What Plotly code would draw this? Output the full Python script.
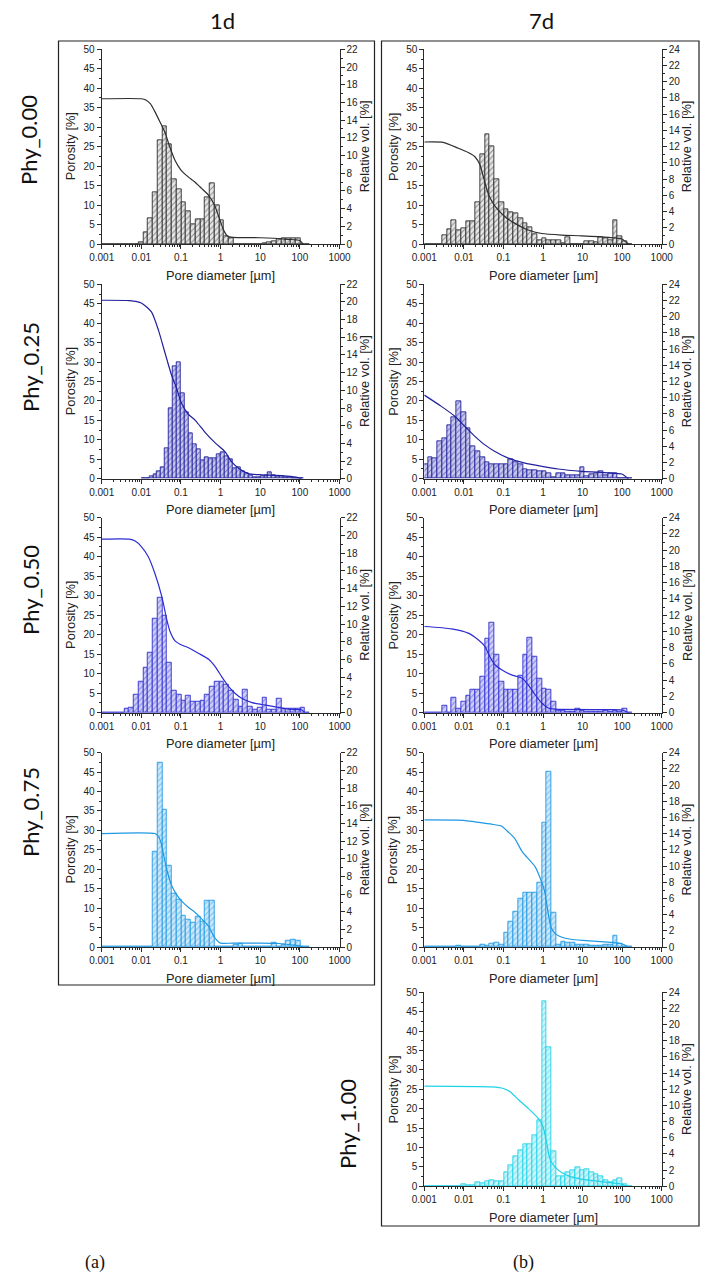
import numpy as np
import plotly.graph_objects as go

W, H = 709, 1281

# ---------------- data ----------------
# bin centres of the pore-size histograms (µm)
bins_a = [0.001072, 0.001413, 0.001862, 0.002455, 0.003236, 0.004266, 0.005623, 0.007413,
          0.009772, 0.01288, 0.01698, 0.02239, 0.02951, 0.03890, 0.05129, 0.06761, 0.08913,
          0.1175, 0.1549, 0.2042, 0.2692, 0.3548, 0.4677, 0.6166, 0.8128, 1.072, 1.413,
          1.862, 2.455, 3.236, 4.266, 5.623, 7.413, 9.772, 12.88, 16.98, 22.39, 29.51,
          38.90, 51.29, 67.61, 89.13, 117.5, 154.9]
bins_b = [0.01122, 0.01413, 0.01778, 0.02239, 0.02818, 0.03548, 0.04467, 0.05623, 0.07079,
          0.08913, 0.1122, 0.1413, 0.1778, 0.2239, 0.2818, 0.3548, 0.4467, 0.5623, 0.7079,
          0.8913, 1.122, 1.413, 1.778, 2.239, 2.818, 3.548, 4.467, 5.623, 7.079, 8.913,
          11.22, 14.13, 17.78, 22.39, 28.18, 35.48, 44.67, 56.23, 70.79, 89.13, 112.2]

# relative volume [%] per bin
relvol_1d_000 = [0, 0, 0, 0, 0, 0, 0, 0,
                 0.22, 1.32, 2.86, 5.85, 11.75, 13.29, 11.22, 7.26, 6.16, 4.75, 3.74, 2.20,
                 2.77, 2.77, 5.28, 6.82, 4.40, 2.64, 0.88, 0.66,
                 0, 0, 0, 0, 0, 0,
                 0.13, 0.22, 0.31, 0.53, 0.66, 0.66, 0.66, 0.66, 0, 0]
relvol_1d_025 = [0, 0, 0.22, 0.53, 0.88, 1.32, 3.43, 8.01, 12.76, 13.2, 9.68, 7.48, 5.15,
                 3.87, 3.3, 2.07, 2.42, 2.33, 2.33, 2.77, 2.99, 2.55, 2.2, 1.19, 1.32, 0.88,
                 0.57, 0.35, 0.18, 0.18, 0.26, 0.44, 0.7, 0.35, 0.22, 0.22, 0.18, 0.13, 0.09,
                 0, 0]
relvol_1d_050 = [0, 0, 0, 0, 0,
                 0.48, 0.62, 2.07, 3.52, 5.06, 6.82, 10.56, 12.98, 11.0, 5.63, 2.46, 1.98,
                 1.41, 1.94, 1.19, 1.19, 1.41, 1.98, 2.99, 3.52, 3.52, 3.21, 2.46, 1.5, 0.66,
                 2.64, 0.66, 0.31, 0.53, 1.72, 0.31, 0.31, 1.63, 0.4, 0.48, 0.48, 0.48, 0.57,
                 0]
relvol_1d_075 = [0, 0, 0, 0, 0, 0, 0, 0, 0, 0, 0,
                 10.74, 20.86, 15.58, 9.2, 5.98, 5.37, 3.52, 3.08, 2.77, 3.39, 2.9, 5.28, 5.28,
                 0, 0, 0, 0, 0.22, 0.35, 0, 0, 0, 0, 0, 0, 0.44, 0, 0.22, 0.66, 0.88, 0.75,
                 0, 0]
relvol_7d_000 = [0, 0, 0, 0,
                 1.1, 1.82, 2.88, 1.68, 1.92, 2.78, 2.78, 5.18, 11.04, 13.58, 12.0, 7.92, 5.18,
                 4.32, 3.94, 3.74, 3.12, 2.59, 2.06, 1.15, 0.48, 0.67, 0.48, 0.48, 0.48, 0.14,
                 0.86, 0, 0, 0, 0.29, 0.38, 0.24, 0.86, 0.72, 0.48, 2.88, 0.96, 0.38,
                 0]
relvol_7d_025 = [1.82, 2.64, 2.54, 4.56, 4.94, 6.62, 7.58, 9.6, 8.16, 6.24, 3.98, 3.36, 2.64,
                 2.02, 1.78, 1.78, 1.78, 1.82, 2.4, 2.06, 1.78, 1.2, 1.06, 1.06, 0.96, 0.86,
                 0.72, 0.19, 0.62, 0.62, 0.48, 0.48, 0.38, 1.39, 0.34, 0.58, 0.62, 0.86, 0.48,
                 0.72, 0.67, 0, 0, 0]
relvol_7d_050 = [0, 0, 0, 0,
                 0.86, 0, 1.82, 0.48, 1.34, 2.06, 2.88, 2.78, 4.46, 9.12, 11.04, 7.1, 3.84,
                 2.78, 2.88, 2.88, 4.56, 7.1, 9.26, 6.86, 4.18, 2.98, 2.78, 1.34, 0.24, 0.24,
                 0.14, 0.14, 0.48, 0.29, 0.14, 0.14, 0.14, 0.14, 0.29, 0.14, 0.24, 0.14, 0.48,
                 0]
relvol_7d_075 = [0, 0, 0, 0, 0, 0, 0, 0.14, 0, 0, 0, 0,
                 0.29, 0.14, 0.38, 0.48, 0.24, 1.73, 3.12, 4.37, 6.0, 6.72, 6.72, 6.72, 7.97,
                 15.36, 21.65, 4.27, 0.24, 0.62, 0.58, 0.48, 0.29, 0.29, 0.24, 0.14, 0.14, 0.19,
                 0.29, 0.29, 1.34, 0.43, 0, 0]
relvol_7d_100 = [0, 0, 0, 0, 0, 0, 0, 0,
                 0.24, 0.14, 0.14, 0.48, 0.34, 0.62, 0.72, 0.62, 0.62, 1.68, 2.64, 3.74, 4.51,
                 5.23, 5.23, 6.34, 8.11, 22.85, 17.14, 4.37, 1.2, 1.2, 1.68, 1.92, 2.4, 1.92,
                 2.16, 1.68, 1.44, 1.2, 0.72, 0.48, 0.72, 0.96, 0.24, 0]

# cumulative porosity [%] curves (pore diameter µm, porosity %)
d_1d_000 = [0.001, 0.01, 0.013, 0.017, 0.022, 0.03, 0.04, 0.05, 0.07, 0.1, 0.15, 0.22, 0.33,
            0.5, 0.7, 0.9, 1.2, 1.5, 2, 10, 50, 100, 120]
p_1d_000 = [37.3, 37.3, 37.0, 36.0, 34.0, 31.2, 28.5, 25.5, 21.6, 19.0, 17.3, 16.0, 14.3,
            12.5, 10.0, 7.0, 3.5, 2.0, 1.7, 1.6, 1.2, 0.9, 0]
d_1d_025 = [0.001, 0.005, 0.01, 0.018, 0.027, 0.04, 0.058, 0.078, 0.1, 0.15, 0.23, 0.4, 0.73,
            1.3, 1.9, 2.9, 5, 11, 35, 80, 110]
p_1d_025 = [45.9, 45.8, 45.2, 42.9, 38.2, 32.2, 26.6, 23.2, 19.7, 16.7, 15.0, 12.0, 9.2,
            6.9, 4.3, 2.6, 1.3, 1.0, 0.8, 0.4, 0]
d_1d_050 = [0.001, 0.005, 0.007, 0.01, 0.015, 0.022, 0.033, 0.044, 0.053, 0.071, 0.1, 0.15,
            0.28, 0.5, 0.73, 1.07, 1.6, 2.3, 3.4, 6.2, 11, 24, 53, 113, 130]
p_1d_050 = [44.5, 44.5, 44.0, 42.6, 40.0, 35.7, 29.7, 23.8, 20.8, 18.4, 17.4, 16.7,
            15.2, 13.7, 11.8, 9.2, 6.7, 5.0, 3.7, 2.6, 2.1, 1.5, 0.9, 0.7, 0]
d_1d_075 = [0.001, 0.022, 0.027, 0.032, 0.036, 0.045, 0.06, 0.08, 0.1, 0.15, 0.22, 0.3, 0.5,
            0.7, 1.0, 2, 10, 30, 70, 100, 120]
p_1d_075 = [29.2, 29.2, 28.5, 26.5, 24.0, 19.5, 15.5, 13.3, 12.0, 10.3, 9.0, 7.7, 5.3,
            2.5, 1.0, 1.0, 1.0, 0.9, 0.5, 0.3, 0]
d_7d_000 = [0.001, 0.003, 0.0072, 0.0129, 0.019, 0.0256, 0.031, 0.041, 0.055, 0.074, 0.11,
            0.195, 0.42, 0.93, 2.95, 9.6, 45, 98, 144]
p_7d_000 = [26.2, 26.1, 24.6, 23.5, 22.4, 20.3, 17.3, 13.0, 10.4, 8.7, 7.0, 5.3, 3.6, 2.7,
            2.3, 2.1, 1.7, 1.3, 0]
d_7d_025 = [0.001, 0.0027, 0.006, 0.0107, 0.019, 0.034, 0.061, 0.133, 0.35, 0.93, 2.4, 9.6,
            45, 98, 144]
p_7d_025 = [21.5, 18.6, 16.0, 13.4, 10.9, 8.7, 7.0, 5.3, 4.0, 3.2, 2.5, 1.9, 1.5, 1.2, 0]
d_7d_050 = [0.001, 0.0049, 0.0129, 0.023, 0.034, 0.045, 0.061, 0.09, 0.16, 0.29, 0.42, 0.63,
            0.93, 1.36, 2.0, 45, 100, 144]
p_7d_050 = [22.1, 21.5, 20.4, 18.7, 17.0, 14.4, 12.3, 11.0, 9.7, 8.9, 7.2, 4.6, 2.5, 1.2,
            0.9, 0.8, 0.7, 0]
d_7d_075 = [0.001, 0.01, 0.019, 0.05, 0.09, 0.12, 0.19, 0.3, 0.63, 0.92, 1.1, 1.35, 1.6, 2,
            3, 5, 10, 50, 100, 140]
p_7d_075 = [32.7, 32.6, 32.2, 31.6, 31.1, 30.0, 28.0, 24.5, 20.7, 16.8, 14.3, 8.7, 5.0, 3.5,
            2.5, 2.0, 1.7, 1.2, 0.8, 0]
d_7d_100 = [0.001, 0.05, 0.1, 0.15, 0.24, 0.42, 0.76, 1.0, 1.24, 1.5, 2, 3, 5, 10, 30, 100,
            130]
p_7d_100 = [25.8, 25.6, 25.2, 24.3, 22.3, 20.1, 17.5, 15.4, 11.1, 7.0, 5.0, 3.5, 2.5, 1.8,
            1.2, 0.5, 0]

x_tickvals = [0.001, 0.01, 0.1, 1, 10, 100, 1000]
x_ticktext = ["0.001", "0.01", "0.1", "1", "10", "100", "1000"]
column_titles = ["1d", "7d"]
row_labels = ["Phy_0.00", "Phy_0.25", "Phy_0.50", "Phy_0.75", "Phy_1.00"]
panel_letters = ["(a)", "(b)"]

# series styles per phy content
STY = {
    "Phy_0.00": ("#2e2e2e", "#e6e6e6"),
    "Phy_0.25": ("#20209c", "#c9c9ec"),
    "Phy_0.50": ("#2c2cd2", "#d0d0f6"),
    "Phy_0.75": ("#1f98e4", "#cde8f9"),
    "Phy_1.00": ("#1dd2e8", "#cff5fa"),
}

panels = [
    (0, 0, "Phy_0.00", bins_a, relvol_1d_000, d_1d_000, p_1d_000, 22),
    (0, 1, "Phy_0.25", bins_b, relvol_1d_025, d_1d_025, p_1d_025, 22),
    (0, 2, "Phy_0.50", bins_a, relvol_1d_050, d_1d_050, p_1d_050, 22),
    (0, 3, "Phy_0.75", bins_a, relvol_1d_075, d_1d_075, p_1d_075, 22),
    (1, 0, "Phy_0.00", bins_a, relvol_7d_000, d_7d_000, p_7d_000, 24),
    (1, 1, "Phy_0.25", bins_a, relvol_7d_025, d_7d_025, p_7d_025, 24),
    (1, 2, "Phy_0.50", bins_a, relvol_7d_050, d_7d_050, p_7d_050, 24),
    (1, 3, "Phy_0.75", bins_a, relvol_7d_075, d_7d_075, p_7d_075, 24),
    (1, 4, "Phy_1.00", bins_a, relvol_7d_100, d_7d_100, p_7d_100, 24),
]

# ---------------- layout geometry (pixels) ----------------
COL_X = [(101.7, 339.5), (424.3, 661.7)]
ROW_Y = [(49.3, 244.0), (284.3, 478.7), (517.7, 712.7), (752.7, 947.0), (992.3, 1186.3)]

def px(x):
    return x / W

def py(y):
    return 1 - y / H

def edges(c):
    c = np.asarray(c, float)
    r = np.sqrt(c[1:] / c[:-1])
    lo = np.empty_like(c)
    hi = np.empty_like(c)
    lo[1:] = c[:-1] * r
    lo[0] = c[0] / r[0]
    hi[:-1] = c[:-1] * r
    hi[-1] = c[-1] * r[-1]
    return lo, hi

FONT = "Liberation Sans, Arial, sans-serif"
AX = "#2a2a2a"
TICKFONT = dict(family=FONT, size=10, color="#222")
minor_x = [m * 10.0 ** e for e in range(-3, 3) for m in range(2, 10)]

fig = go.Figure()
layout = {}
annotations = []

for i, (col, row, lab, bins, rel, ld, lp, rmax) in enumerate(panels):
    n = i + 1
    xref = "x" if n == 1 else f"x{n}"
    xname = "xaxis" if n == 1 else f"xaxis{n}"
    b, o = 2 * n - 1, 2 * n
    ybref = "y" if b == 1 else f"y{b}"
    ybname = "yaxis" if b == 1 else f"yaxis{b}"
    yoref = f"y{o}"
    yoname = f"yaxis{o}"
    color, fill = STY[lab]
    x0, x1 = COL_X[col]
    ytop, ybot = ROW_Y[row]

    assert len(bins) == len(rel), (lab, len(bins), len(rel))
    lo, hi = edges(bins)
    fig.add_trace(go.Bar(
        x=lo, y=rel, width=hi - lo, offset=0,
        xaxis=xref, yaxis=ybref,
        marker=dict(color=fill,
                    line=dict(color=color, width=0.9),
                    pattern=dict(shape="/", fgcolor=color, bgcolor=fill,
                                 size=4, solidity=0.25)),
        showlegend=False, hoverinfo="skip"))
    fig.add_trace(go.Scatter(
        x=ld, y=lp, mode="lines", xaxis=xref, yaxis=yoref,
        line=dict(color=color, width=1.2, shape="spline", smoothing=0.6),
        showlegend=False, hoverinfo="skip"))

    common = dict(showgrid=False, zeroline=False, showline=True, linecolor=AX,
                  linewidth=1, ticks="outside", ticklen=4, tickwidth=1, tickcolor=AX,
                  tickfont=TICKFONT, fixedrange=True, automargin=False)
    layout[xname] = dict(common, domain=[px(x0), px(x1)], anchor=ybref, type="log",
                         range=[-3, 3], tickmode="array", tickvals=x_tickvals,
                         ticktext=x_ticktext,
                         minor=dict(tickmode="array", tickvals=minor_x, ticks="outside",
                                    ticklen=2, tickcolor=AX, tickwidth=1))
    layout[ybname] = dict(common, domain=[py(ybot), py(ytop)], anchor=xref, side="right",
                          range=[0, rmax], tickmode="linear", tick0=0, dtick=2,
                          minor=dict(tick0=0, dtick=1, ticks="outside", ticklen=2,
                                     tickcolor=AX, tickwidth=1))
    layout[yoname] = dict(common, overlaying=ybref, anchor=xref, side="left",
                          range=[0, 50], tickmode="linear", tick0=0, dtick=5,
                          minor=dict(tick0=0, dtick=2.5, ticks="outside", ticklen=2,
                                     tickcolor=AX, tickwidth=1))

    tfont = dict(family=FONT, size=12.8, color="#222")
    ymid = (ytop + ybot) / 2
    annotations.append(dict(text="Porosity [%]", x=px(x0 - 31), y=py(ymid), xref="paper",
                            yref="paper", textangle=-90, showarrow=False, font=tfont,
                            xanchor="center", yanchor="middle"))
    annotations.append(dict(text="Relative vol. [%]", x=px(x1 + 25), y=py(ymid),
                            xref="paper", yref="paper", textangle=-90, showarrow=False,
                            font=tfont, xanchor="center", yanchor="middle"))
    annotations.append(dict(text="Pore diameter [µm]", x=px((x0 + x1) / 2), y=py(ybot + 31),
                            xref="paper", yref="paper", showarrow=False, font=tfont,
                            xanchor="center", yanchor="middle"))

# column titles, row labels, panel letters
LFONT = "Lato, Open Sans, sans-serif"
for t, xc in zip(column_titles, [222, 541]):
    annotations.append(dict(text=t, x=px(xc), y=py(20), xref="paper", yref="paper",
                            showarrow=False, font=dict(family=LFONT, size=22, color="#111"),
                            xanchor="center", yanchor="middle"))
for t, (xc, yc) in zip(row_labels, [(28, 140), (30, 367), (30, 590), (30, 812), (347, 1124)]):
    annotations.append(dict(text=t, x=px(xc), y=py(yc), xref="paper", yref="paper",
                            textangle=-90, showarrow=False,
                            font=dict(family=LFONT, size=22, color="#111"),
                            xanchor="center", yanchor="middle"))
for t, xc in zip(panel_letters, [95, 523]):
    annotations.append(dict(text=t, x=px(xc), y=py(1262), xref="paper", yref="paper",
                            showarrow=False,
                            font=dict(family="Liberation Serif, serif", size=18, color="#111"),
                            xanchor="center", yanchor="middle"))

shapes = [
    dict(type="rect", xref="paper", yref="paper", x0=px(58.5), x1=px(374.5),
         y0=py(985), y1=py(41), line=dict(color="#222", width=1.2)),
    dict(type="rect", xref="paper", yref="paper", x0=px(381.5), x1=px(699),
         y0=py(1226), y1=py(41), line=dict(color="#222", width=1.2)),
]

fig.update_layout(width=W, height=H, margin=dict(l=0, r=0, t=0, b=0),
                  paper_bgcolor="white", plot_bgcolor="rgba(0,0,0,0)",
                  showlegend=False, bargap=0, font=dict(family=FONT, color="#222"),
                  annotations=annotations, shapes=shapes, **layout)

fig.write_html("out.html", config={"displayModeBar": False},
               post_script="document.body.style.margin='0';document.body.style.overflow='hidden';")
